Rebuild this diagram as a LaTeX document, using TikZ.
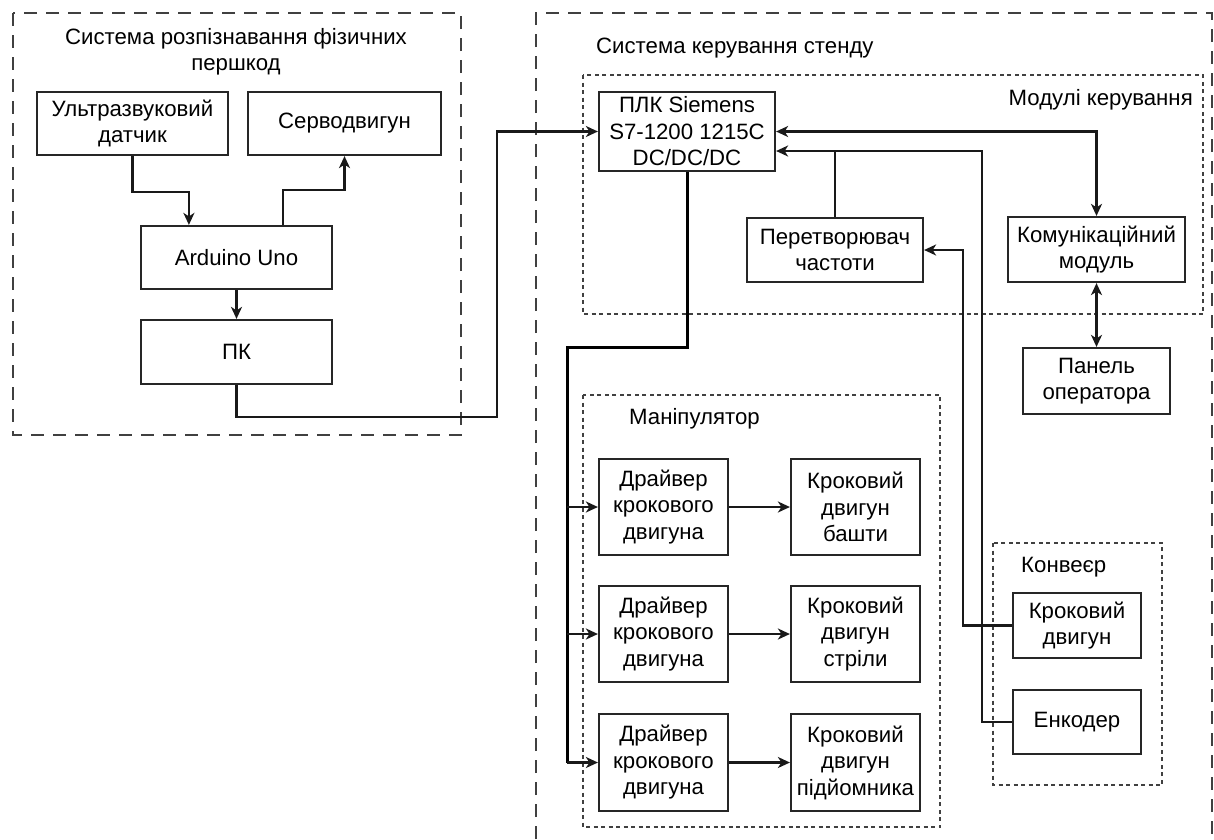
\documentclass[tikz,border=0pt]{standalone}
\usepackage{fontspec}
\setmainfont{Liberation Sans}
\usetikzlibrary{arrows.meta,calc}
\begin{document}
\begin{tikzpicture}[x=1pt,y=-1pt,
  font=\fontsize{22.2pt}{26.5pt}\selectfont,
  box/.style={draw=black!85,line width=2.2pt,inner sep=0pt,align=center},
  arr/.style={line width=2.2pt,draw=black!90,-{Stealth[length=12pt,width=11pt,inset=3.5pt]}},
  biarr/.style={line width=2.2pt,draw=black!90,{Stealth[length=12pt,width=11pt,inset=3.5pt]}-{Stealth[length=12pt,width=11pt,inset=3.5pt]}},
  line/.style={line width=2.2pt,draw=black!90},
  busline/.style={line width=3pt,draw=black},
  bigframe/.style={line width=2.2pt,draw=black!75,dash pattern=on 13pt off 9pt},
  groupframe/.style={line width=2.2pt,draw=black!75,dash pattern=on 4pt off 3.5pt},
  lbl/.style={inner sep=0pt}
]
\fill[white] (0,0) rectangle (1214,839);
\useasboundingbox (0,0) rectangle (1214,839);

% frames
\draw[bigframe] (13,13) rectangle (461,435);
\draw[bigframe] (536,839) -- (536,13) -- (1212,13) -- (1212,839);
\draw[groupframe] (583,75) rectangle (1203,314);
\draw[groupframe] (583,395) rectangle (940,827);
\draw[groupframe] (993,543) rectangle (1162,785);

% labels
\node[lbl,align=center] (t1) at (236,52) {Система розпізнавання фізичних\\першкод};
\node[lbl,anchor=west] (t2) at (596,48) {Система керування стенду};
\node[lbl,anchor=east] (t3) at (1193,100) {Модулі керування};
\node[lbl,anchor=west] (t4) at (629,419) {Маніпулятор};
\node[lbl,anchor=west] (t5) at (1021,567) {Конвеєр};

% left system
\node[box,minimum width=191pt,minimum height=63pt] (ultra) at (132.5,123.5) {Ультразвуковий\\датчик};
\node[box,minimum width=193pt,minimum height=63pt] (servo) at (344.5,123.5) {Серводвигун};
\node[box,minimum width=191pt,minimum height=63pt] (ard) at (236.5,257.5) {Arduino Uno};
\node[box,minimum width=191pt,minimum height=64pt] (pk) at (236.5,352) {ПК};

% control modules
\node[box,minimum width=176pt,minimum height=79pt] (plc) at (687,131.5) {ПЛК Siemens\\S7-1200 1215C\\DC/DC/DC};
\node[box,minimum width=176pt,minimum height=64pt] (conv) at (835,250) {Перетворювач\\частоти};
\node[box,minimum width=177pt,minimum height=65pt] (com) at (1096.5,249.5) {Комунікаційний\\модуль};
\node[box,minimum width=147pt,minimum height=66pt] (panel) at (1096.5,381) {Панель\\оператора};

% manipulator
\node[box,minimum width=129pt,minimum height=96pt] (drv1) at (663.5,507) {Драйвер\\крокового\\двигуна};
\node[box,minimum width=129pt,minimum height=96pt] (drv2) at (663.5,634) {Драйвер\\крокового\\двигуна};
\node[box,minimum width=129pt,minimum height=97pt] (drv3) at (663.5,762.5) {Драйвер\\крокового\\двигуна};
\node[box,minimum width=129pt,minimum height=96pt] (mot1) at (855.5,507) {Кроковий\\двигун\\башти};
\node[box,minimum width=129pt,minimum height=96pt] (mot2) at (855.5,634) {Кроковий\\двигун\\стріли};
\node[box,minimum width=129pt,minimum height=97pt] (mot3) at (855.5,762.5) {Кроковий\\двигун\\підйомника};

% conveyor
\node[box,minimum width=128pt,minimum height=65pt] (cmot) at (1077,625.5) {Кроковий\\двигун};
\node[box,minimum width=128pt,minimum height=64pt] (enc) at (1077,722) {Енкодер};

% coordinates
\coordinate (jn) at (982,151);
\coordinate (bus) at (567,347);

% connectors left
\draw[arr] (ultra.south) -- ++(0,36) -| ([xshift=49pt]ard.north west);
\draw[arr] ([xshift=143pt]ard.north west) -- ++(0,-35) -| (servo.south);
\draw[arr] (ard.south) -- (pk.north);
\draw[arr] (pk.south) -- ++(0,32) -| ($(plc.west)+(-101,0)$) -- (plc.west);

% connectors right
\draw[biarr] (plc.east) -| (com.north);
\draw[biarr] (com.south) -- (panel.north);
\draw[line] (conv.north) -- (conv.north |- jn);
\draw[arr] (enc.west) -| (jn) -- ([yshift=-19.5pt]plc.east);
\draw[arr] (cmot.west) -- ++(-49,0) |- (conv.east);

% bus to drivers
\draw[busline] (plc.south) |- (bus) -- (bus |- drv3.west);
\draw[arr] (bus |- drv1.west) -- (drv1.west);
\draw[arr] (bus |- drv2.west) -- (drv2.west);
\draw[arr] (bus |- drv3.west) -- (drv3.west);
\draw[arr] (drv1.east) -- (mot1.west);
\draw[arr] (drv2.east) -- (mot2.west);
\draw[arr] (drv3.east) -- (mot3.west);
\end{tikzpicture}
\end{document}
